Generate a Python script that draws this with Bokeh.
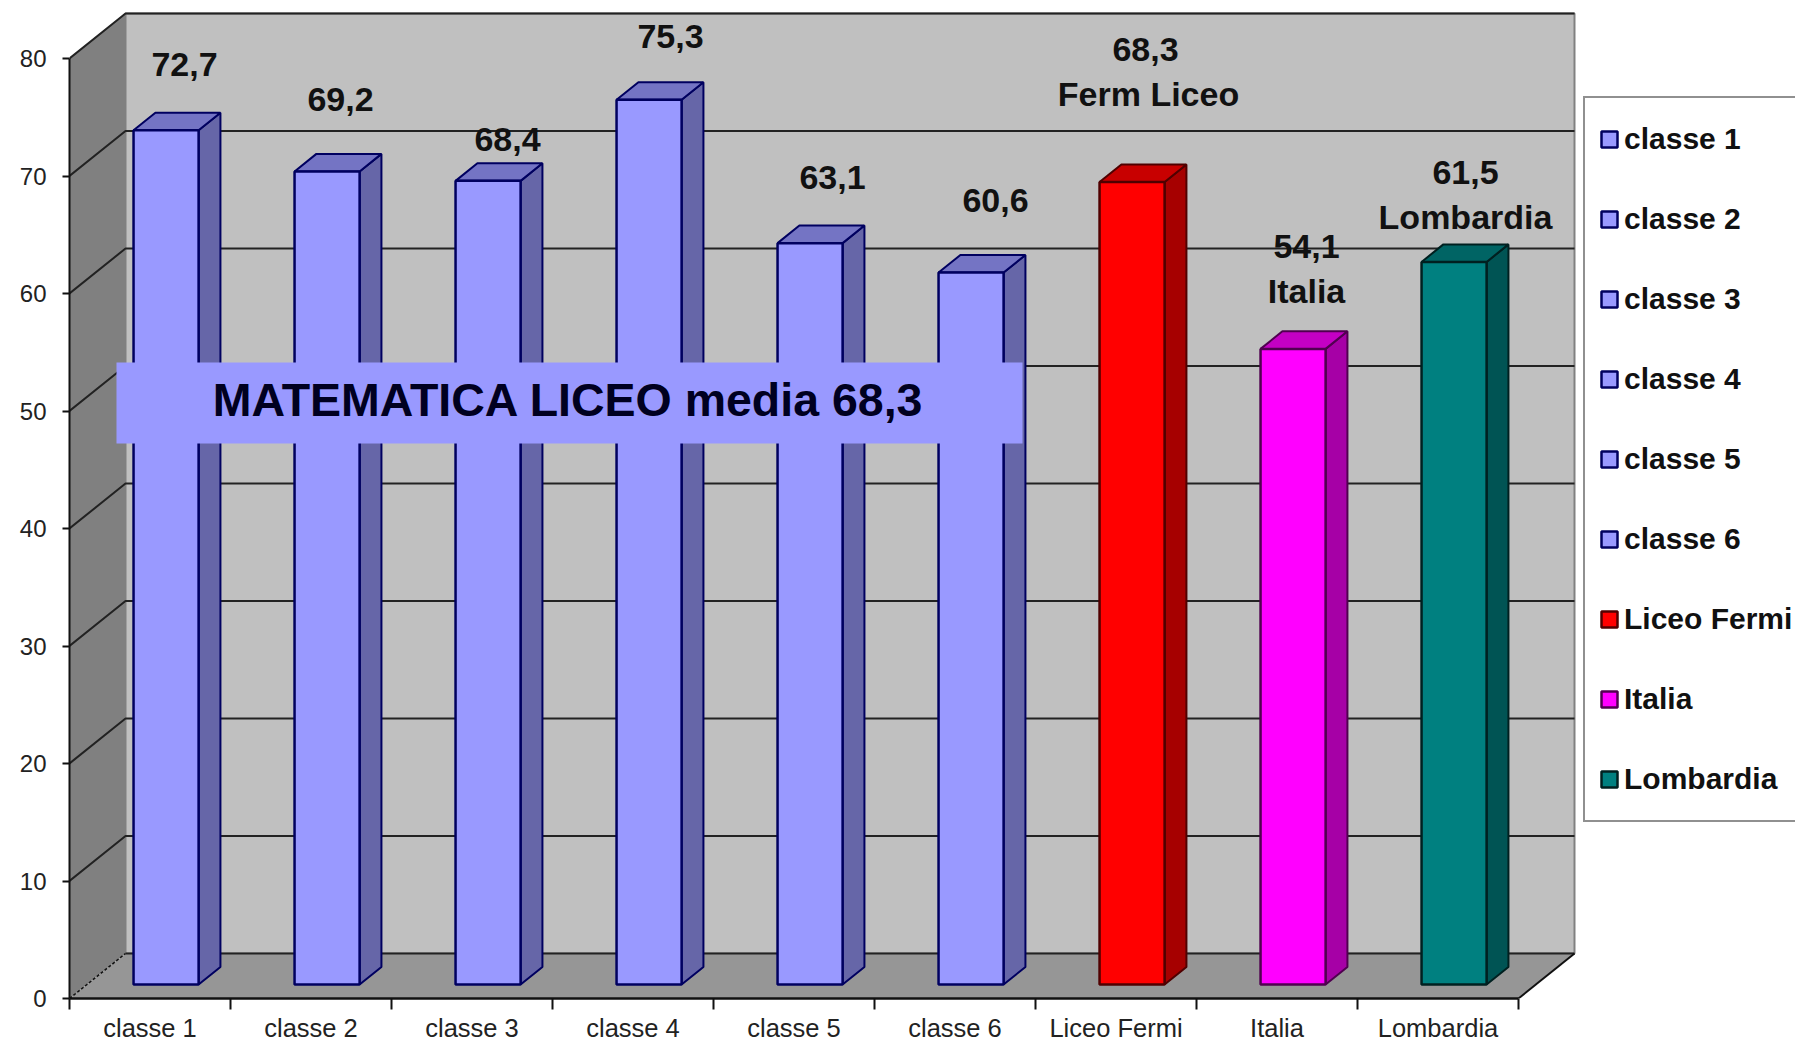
from bokeh.plotting import figure
from bokeh.models import Range1d, FixedTicker, Legend, LegendItem, LinearAxis
from bokeh.core.properties import value
from bokeh.embed import file_html
from bokeh.resources import INLINE

# ---------- data ----------
categories = ["classe 1", "classe 2", "classe 3", "classe 4", "classe 5", "classe 6",
              "Liceo Fermi", "Italia", "Lombardia"]
values = [72.7, 69.2, 68.4, 75.3, 63.1, 60.6, 68.3, 54.1, 61.5]
value_labels = ["72,7", "69,2", "68,4", "75,3", "63,1", "60,6", "68,3", "54,1", "61,5"]
extra_labels = ["Ferm Liceo", "Italia", "Lombardia"]
y_ticks = [0, 10, 20, 30, 40, 50, 60, 70, 80]
title_text = "MATEMATICA LICEO media 68,3"

# ---------- styles ----------
BLUE = ("#9999FF", "#7474C4", "#6666A8", "#000060")
front_colors = [BLUE[0]] * 6 + ["#FF0000", "#FF00FF", "#008080"]
top_colors = [BLUE[1]] * 6 + ["#C80000", "#C400C4", "#006464"]
side_colors = [BLUE[2]] * 6 + ["#A60000", "#A600A6", "#005454"]
edge_colors = [BLUE[3]] * 6 + ["#500000", "#500050", "#002020"]

# ---------- geometry (page pixels of the projection) ----------
ORIGIN = 0                # where the figure's corner lands in the picture
X0, Y0 = 69, 998          # front-left origin
PX_CAT, PX_VAL = 161.0, 11.75
DEPTH_PX, DEPTH_PY = 56, 45
W, H = 1795, 1046
DX, DY = DEPTH_PX / PX_CAT, DEPTH_PY / PX_VAL
BAR_L, BAR_W = 0.29, 0.404
D0, D1 = 0.31, 0.70
NC, VMAX = len(categories), y_ticks[-1]


def X(px):
    return (px - X0) / PX_CAT


def Y(py):
    return (Y0 - py) / PX_VAL


def pr(c, v, d):
    return c + d * DX, v + d * DY


def poly(points):
    pts = [pr(*p) for p in points]
    return [a for a, _ in pts], [b for _, b in pts]


p = figure(width=W, height=H, output_backend="svg", toolbar_location=None,
           x_range=Range1d(0, X(ORIGIN + W)), y_range=Range1d(0, Y(ORIGIN)),
           min_border_left=X0 - ORIGIN, min_border_right=0, min_border_top=0,
           min_border_bottom=H - (Y0 - ORIGIN), x_axis_type=None, y_axis_type=None,
           background_fill_color="white", border_fill_color="white")
p.outline_line_color = None
p.grid.visible = False

# walls and floor
xs, ys = poly([(0, 0, 0), (0, 0, 1), (0, VMAX, 1), (0, VMAX, 0)])
p.patch(xs, ys, fill_color="#808080", line_color=None)
xs, ys = poly([(0, 0, 1), (NC, 0, 1), (NC, VMAX, 1), (0, VMAX, 1)])
p.patch(xs, ys, fill_color="#C0C0C0", line_color="#808080", line_width=2)
xs, ys = poly([(0, 0, 0), (NC, 0, 0), (NC, 0, 1), (0, 0, 1)])
p.patch(xs, ys, fill_color="#969696", line_color=None)

# gridlines
for v in y_ticks:
    xs, ys = poly([(0, v, 0), (0, v, 1), (NC, v, 1)])
    if v == 0:
        p.line(xs[:2], ys[:2], line_color="#111111", line_width=1.5, line_dash="3 2")
        p.line(xs[1:], ys[1:], line_color="#222222", line_width=2)
    else:
        p.line(xs, ys, line_color="#222222", line_width=2)
xs, ys = poly([(NC, 0, 0), (NC, 0, 1)])
p.line(xs, ys, line_color="#111111", line_width=2)

# bars
items = []
for i, (cat, v) in enumerate(zip(categories, values)):
    l, r = i + BAR_L, i + BAR_L + BAR_W
    ec = edge_colors[i]
    xs, ys = poly([(r, 0, D0), (r, 0, D1), (r, v, D1), (r, v, D0)])
    p.patch(xs, ys, fill_color=side_colors[i], line_color=ec, line_width=2)
    xs, ys = poly([(l, v, D0), (r, v, D0), (r, v, D1), (l, v, D1)])
    p.patch(xs, ys, fill_color=top_colors[i], line_color=ec, line_width=2)
    x0, y0 = pr(l, 0, D0)
    x1, y1 = pr(r, v, D0)
    rend = p.quad(left=[x0], right=[x1], bottom=[y0], top=[y1],
                  fill_color=front_colors[i], line_color=ec, line_width=2.5)
    items.append(LegendItem(label=value(cat), renderers=[rend]))

# title band
p.quad(left=[X(116)], right=[X(1022)], top=[Y(362)], bottom=[Y(443)],
       fill_color="#9999FF", line_color=None)
p.text([X(568)], [Y(399)], text=[title_text], text_color="#000020",
       text_font=value("Liberation Sans"), text_font_style="bold", text_font_size="46.5px",
       text_align="center", text_baseline="middle")

# data labels
lab_cx = [184, 340, 507, 670, 832, 995, 1145, 1306, 1465]
lab_cy = [64, 99, 139, 36, 177, 200, 49, 246, 172]
p.text([X(a) for a in lab_cx], [Y(b) for b in lab_cy], text=value_labels, text_color="#111111",
       text_font=value("Liberation Sans"), text_font_style="bold", text_font_size="34px",
       text_align="center", text_baseline="middle")
ext_cx = [1148, 1306, 1465]
ext_cy = [93, 290, 216]
p.text([X(a) for a in ext_cx], [Y(b) for b in ext_cy], text=extra_labels, text_color="#111111",
       text_font=value("Liberation Sans"), text_font_style="bold", text_font_size="34px",
       text_align="center", text_baseline="middle")

# axes
yax = LinearAxis(ticker=FixedTicker(ticks=y_ticks), bounds=(0, VMAX))
yax.axis_line_color = "#111111"
yax.axis_line_width = 2
yax.major_tick_line_color = "#111111"
yax.major_tick_line_width = 2
yax.major_tick_in = 0
yax.major_tick_out = 7
yax.minor_tick_line_color = None
yax.major_label_standoff = 16
yax.major_label_text_font = "Liberation Sans"
yax.major_label_text_font_size = "24px"
yax.major_label_text_color = "#222222"
p.add_layout(yax, "left")

xax = LinearAxis(ticker=FixedTicker(ticks=[i + 0.5 for i in range(NC)], minor_ticks=list(range(NC + 1))),
                 bounds=(0, NC),
                 major_label_overrides={i + 0.5: c for i, c in enumerate(categories)})
xax.axis_line_color = "#111111"
xax.axis_line_width = 2.5
xax.major_tick_line_color = None
xax.major_tick_in = 0
xax.major_tick_out = 0
xax.minor_tick_line_color = "#111111"
xax.minor_tick_line_width = 2
xax.minor_tick_in = 0
xax.minor_tick_out = 11
xax.major_label_standoff = 4
xax.major_label_text_font = "Liberation Sans"
xax.major_label_text_font_size = "25.5px"
xax.major_label_text_color = "#222222"
p.add_layout(xax, "below")

# legend
legend = Legend(items=items, location=(1583 - X0, Y0 - 821 - 1), orientation="vertical",
                padding=14, spacing=26, label_height=54, glyph_width=20, glyph_height=20,
                label_standoff=5, margin=0,
                label_text_font="Liberation Sans", label_text_font_style="bold",
                label_text_font_size="30px", label_text_color="#111111",
                border_line_color="#222222", border_line_width=2,
                background_fill_color="white", background_fill_alpha=1.0)
p.add_layout(legend, "center")

open("out.html", "w").write(file_html(p, INLINE))
